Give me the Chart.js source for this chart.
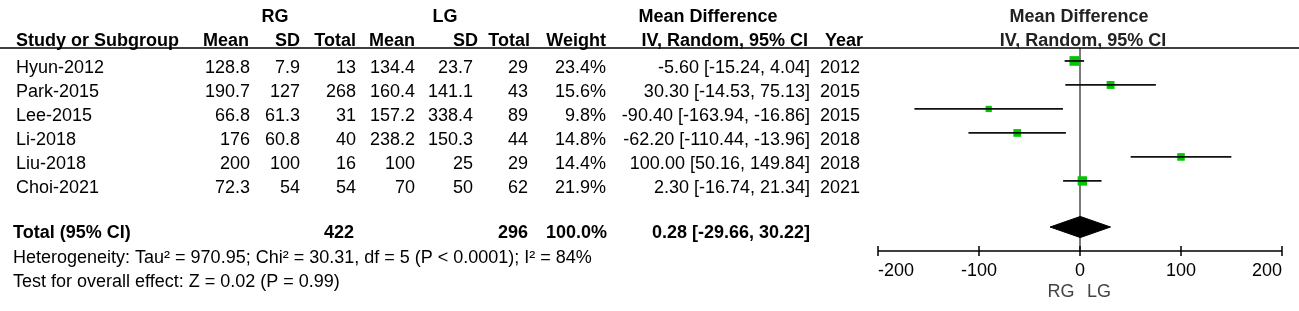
<!DOCTYPE html>
<html>
<head>
<meta charset="utf-8">
<title>Forest plot</title>
<script src="https://cdn.jsdelivr.net/npm/chart.js@4.4.1/dist/chart.umd.min.js"></script>
<style>
  body { margin: 0; background: #fff; }
  #wrap { width: 1299px; height: 311px; }
</style>
</head>
<body>
<div id="wrap"><canvas id="forest" width="1299" height="311"></canvas></div>
<script>
// Study data
const studies = ["Hyun-2012", "Park-2015", "Lee-2015", "Li-2018", "Liu-2018", "Choi-2021"];
const rgMean = [128.8, 190.7, 66.8, 176, 200, 72.3];
const rgSD = [7.9, 127, 61.3, 60.8, 100, 54];
const rgTotal = [13, 268, 31, 40, 16, 54];
const lgMean = [134.4, 160.4, 157.2, 238.2, 100, 70];
const lgSD = [23.7, 141.1, 338.4, 150.3, 25, 50];
const lgTotal = [29, 43, 89, 44, 29, 62];
const weights = [23.4, 15.6, 9.8, 14.8, 14.4, 21.9];
const meanDiff = [-5.60, 30.30, -90.40, -62.20, 100.00, 2.30];
const ciLow = [-15.24, -14.53, -163.94, -110.44, 50.16, -16.74];
const ciHigh = [4.04, 75.13, -16.86, -13.96, 149.84, 21.34];
const years = [2012, 2015, 2015, 2018, 2018, 2021];

// Pooled result
const totalRG = 422;
const totalLG = 296;
const totalWeight = 100.0;
const pooledMD = 0.28;
const pooledLow = -29.66;
const pooledHigh = 30.22;
const heterogeneity = "Heterogeneity: Tau\u00b2 = 970.95; Chi\u00b2 = 30.31, df = 5 (P < 0.0001); I\u00b2 = 84%";
const overallTest = "Test for overall effect: Z = 0.02 (P = 0.99)";

// Axis
const xTicks = [-200, -100, 0, 100, 200];

// Layout bits
const totalRow = 6.92;
const FONT = '"Liberation Sans", Arial, sans-serif';
const green = "#00c800";

const fmtCI = (m, lo, hi) => m.toFixed(2) + " [" + lo.toFixed(2) + ", " + hi.toFixed(2) + "]";

// CI whiskers, one line per study
const ciSets = studies.map((s, i) => ({
  showLine: true,
  data: [{ x: ciLow[i], y: i }, { x: ciHigh[i], y: i }],
  borderColor: "#111",
  borderWidth: 1.8,
  pointRadius: 0,
}));

// Study boxes, side scaled by sqrt(weight)
const boxSet = {
  data: meanDiff.map((m, i) => ({ x: m, y: i })),
  pointStyle: "rect",
  pointRadius: weights.map((w) => (Math.sqrt(w) * 2.0) / Math.SQRT2),
  pointBackgroundColor: green,
  pointBorderWidth: 0,
  pointBorderColor: green,
};

// Pooled diamond
const diamondSet = {
  showLine: true,
  data: [
    { x: pooledLow, y: totalRow },
    { x: pooledMD, y: totalRow - 0.44 },
    { x: pooledHigh, y: totalRow },
    { x: pooledMD, y: totalRow + 0.44 },
    { x: pooledLow, y: totalRow },
  ],
  fill: "shape",
  backgroundColor: "#000",
  borderColor: "#000",
  borderWidth: 1,
  pointRadius: 0,
  tension: 0,
};

function text(ctx, str, x, y, align, bold, color) {
  ctx.font = (bold ? "bold " : "") + "18px " + FONT;
  ctx.textAlign = align;
  ctx.textBaseline = "alphabetic";
  ctx.fillStyle = color || "#000";
  ctx.fillText(str, x, y);
}

const forestPlugin = {
  id: "forest",
  beforeDatasetsDraw(chart) {
    const ctx = chart.ctx;
    const xs = chart.scales.x;
    const area = chart.chartArea;
    // line of no effect
    ctx.save();
    ctx.strokeStyle = "#333";
    ctx.lineWidth = 1.3;
    ctx.beginPath();
    ctx.moveTo(xs.getPixelForValue(0), area.top);
    ctx.lineTo(xs.getPixelForValue(0), area.bottom);
    ctx.stroke();
    ctx.restore();
  },
  afterDraw(chart) {
    const ctx = chart.ctx;
    const xs = chart.scales.x;
    const ys = chart.scales.y;
    const area = chart.chartArea;
    ctx.save();

    // header rule across the whole figure
    ctx.strokeStyle = "#000";
    ctx.lineWidth = 1.5;
    ctx.beginPath();
    ctx.moveTo(0, area.top);
    ctx.lineTo(chart.width, area.top);
    ctx.stroke();

    // headers
    text(ctx, "RG", 275, 22, "center", true);
    text(ctx, "LG", 445, 22, "center", true);
    text(ctx, "Mean Difference", 708, 22, "center", true);
    text(ctx, "Mean Difference", 1079, 22, "center", true, "#222");
    text(ctx, "Study or Subgroup", 16, 46, "left", true);
    text(ctx, "Mean", 249, 46, "right", true);
    text(ctx, "SD", 300, 46, "right", true);
    text(ctx, "Total", 356, 46, "right", true);
    text(ctx, "Mean", 415, 46, "right", true);
    text(ctx, "SD", 478, 46, "right", true);
    text(ctx, "Total", 530, 46, "right", true);
    text(ctx, "Weight", 606, 46, "right", true);
    text(ctx, "IV, Random, 95% CI", 808, 46, "right", true);
    text(ctx, "Year", 863, 46, "right", true);
    text(ctx, "IV, Random, 95% CI", 1083, 46, "center", true, "#222");

    // study rows
    studies.forEach((s, i) => {
      const y = ys.getPixelForValue(i) + 12;
      text(ctx, s, 16, y, "left");
      text(ctx, String(rgMean[i]), 250, y, "right");
      text(ctx, String(rgSD[i]), 300, y, "right");
      text(ctx, String(rgTotal[i]), 356, y, "right");
      text(ctx, String(lgMean[i]), 415, y, "right");
      text(ctx, String(lgSD[i]), 473, y, "right");
      text(ctx, String(lgTotal[i]), 528, y, "right");
      text(ctx, weights[i].toFixed(1) + "%", 606, y, "right");
      text(ctx, fmtCI(meanDiff[i], ciLow[i], ciHigh[i]), 810, y, "right");
      text(ctx, String(years[i]), 860, y, "right");
    });

    // total row
    const ty = ys.getPixelForValue(totalRow) + 11;
    text(ctx, "Total (95% CI)", 13, ty, "left", true);
    text(ctx, String(totalRG), 354, ty, "right", true);
    text(ctx, String(totalLG), 528, ty, "right", true);
    text(ctx, totalWeight.toFixed(1) + "%", 607, ty, "right", true);
    text(ctx, fmtCI(pooledMD, pooledLow, pooledHigh), 810, ty, "right", true);
    text(ctx, heterogeneity, 13, ty + 25, "left");
    text(ctx, overallTest, 13, ty + 49, "left");

    // x axis with ticks both sides of the line
    const ay = area.bottom;
    ctx.strokeStyle = "#000";
    ctx.lineWidth = 1.5;
    ctx.beginPath();
    ctx.moveTo(xs.getPixelForValue(xTicks[0]), ay);
    ctx.lineTo(xs.getPixelForValue(xTicks[xTicks.length - 1]), ay);
    xTicks.forEach((t) => {
      const px = xs.getPixelForValue(t);
      ctx.moveTo(px, ay - 5);
      ctx.lineTo(px, ay + 5);
    });
    ctx.stroke();
    xTicks.forEach((t, i) => {
      const px = xs.getPixelForValue(t);
      const align = i === 0 ? "left" : i === xTicks.length - 1 ? "right" : "center";
      text(ctx, String(t), px, ay + 25, align);
    });
    const zx = xs.getPixelForValue(0);
    text(ctx, "RG", zx - 19, ay + 46, "center", false, "#444");
    text(ctx, "LG", zx + 19, ay + 46, "center", false, "#444");

    ctx.restore();
  },
};

new Chart(document.getElementById("forest"), {
  type: "scatter",
  data: { datasets: [...ciSets, diamondSet, boxSet] },
  options: {
    responsive: false,
    animation: false,
    devicePixelRatio: 1,
    layout: { padding: { left: 878, right: 17, top: 48, bottom: 60 } },
    plugins: { legend: { display: false }, tooltip: { enabled: false } },
    scales: {
      x: { type: "linear", min: -200, max: 200, display: false },
      y: { type: "linear", min: -0.54, max: 7.92, reverse: true, display: false },
    },
  },
  plugins: [forestPlugin],
});
</script>
</body>
</html>
